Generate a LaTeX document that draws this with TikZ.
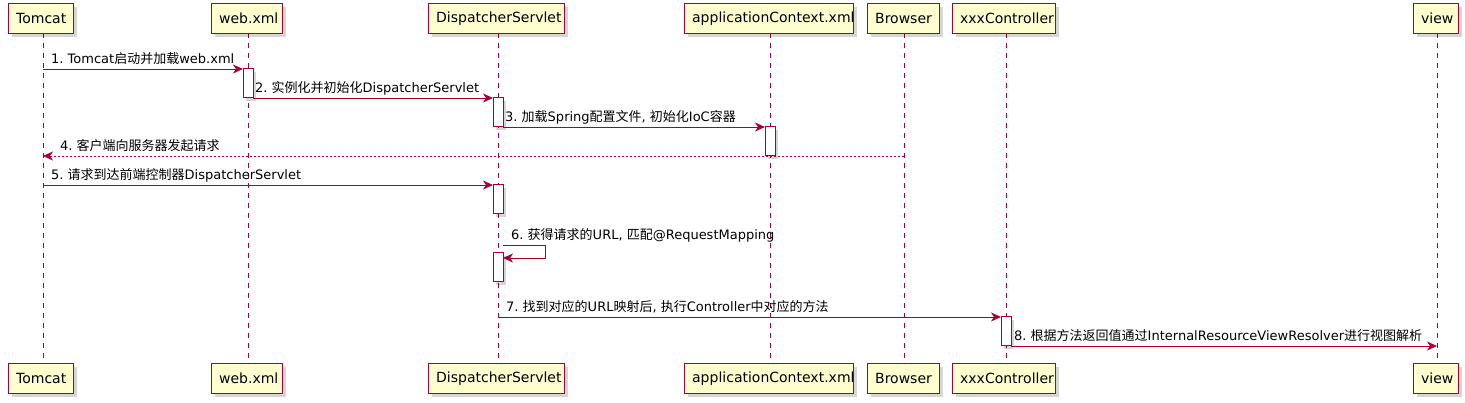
\documentclass[tikz,border=0pt]{standalone}
\usepackage{fontspec}
\setmainfont{DejaVu Sans}
\newfontfamily\cjk{Noto Sans CJK SC}
\usetikzlibrary{shadows,arrows.meta}
\definecolor{pborder}{HTML}{A80036}
\definecolor{pfill}{HTML}{FEFECE}
\frenchspacing
\begin{document}
\frenchspacing
\begin{tikzpicture}[x=1pt,y=-1pt,
  shad/.style={drop shadow={shadow xshift=3pt,shadow yshift=-3pt,fill=black,opacity=0.16}},
  part/.style={draw=pborder, fill=pfill, line width=1.3pt, minimum height=30pt,
    inner xsep=7.5pt, inner ysep=0pt, font=\fontsize{14}{16}\selectfont,
    align=left, anchor=north west, shad},
  life/.style={draw=pborder, line width=0.8pt, dash pattern=on 5pt off 5pt},
  act/.style={draw=pborder, fill=white, line width=1pt, minimum width=10pt,
    minimum height=29pt, inner sep=0pt, outer sep=0pt, anchor=north, shad},
  msg/.style={draw=pborder, line width=0.9pt, -{Stealth[length=10pt,width=9pt,inset=3pt]}},
  ret/.style={msg, dash pattern=on 2pt off 2pt},
  lbl/.style={anchor=base west, inner sep=0pt, font=\fontsize{13}{15}\selectfont}
]
\useasboundingbox (0,0) rectangle (1465,403);

% lifelines
\foreach \x in {43,248,498,770,904,1006,1437}
  \draw[life] (\x,33) -- (\x,363);

% participants (top and bottom)
\foreach \nm/\l/\w/\t in {tomcat/8/65/Tomcat, web/211/71/web.xml, ds/428/136/DispatcherServlet,
    ctx/684/169/applicationContext.xml, br/867/72/Browser, xc/952/103/xxxController, view/1413/45/view}{
  \node[part, text width=\w pt-15pt] (\nm T) at (\l,3) {\t};
  \node[part, text width=\w pt-15pt] (\nm B) at (\l,363) {\t};
}

% activations
\node[act] (aw)  at (248,69) {};
\node[act] (ad1) at (498,98) {};
\node[act] (ac)  at (770,127) {};
\node[act] (ad2) at (498,185) {};
\node[act] (ad3) at (498,253) {};
\node[act] (ax)  at (1006,317) {};

% coordinates on lifelines
\coordinate (m1s) at (43,69);
\coordinate (m4s) at (904,156);
\coordinate (m4e) at (43,156);
\coordinate (m5s) at (43,185);
\coordinate (m6s) at (503,245);
\coordinate (m6a) at (545,245);
\coordinate (m6b) at (545,258);
\coordinate (m7s) at (498,317);
\coordinate (m8e) at (1437,346);

% messages
\draw[msg] (m1s) -- (aw.north west);
\node[lbl] (l1) at (51,64) {1. Tomcat{\cjk 启动并加载}web.xml};

\draw[msg] (aw.south east) -- (ad1.north west);
\node[lbl] (l2) at (255,93) {2. {\cjk 实例化并初始化}DispatcherServlet};

\draw[msg] (ad1.south east) -- (ac.north west);
\node[lbl] (l3) at (505,122) {3. {\cjk 加载}Spring{\cjk 配置文件}, {\cjk 初始化}IoC{\cjk 容器}};

\draw[ret] (m4s) -- (m4e);
\node[lbl] (l4) at (60,151) {4. {\cjk 客户端向服务器发起请求}};

\draw[msg] (m5s) -- (ad2.north west);
\node[lbl] (l5) at (51,180) {5. {\cjk 请求到达前端控制器}DispatcherServlet};

\draw[msg] (m6s) -- (m6a) -- (m6b) -- ([yshift=-5pt]ad3.north east);
\node[lbl] (l6) at (511,240) {6. {\cjk 获得请求的}URL, {\cjk 匹配}@RequestMapping};

\draw[msg] (m7s) -- (ax.north west);
\node[lbl] (l7) at (506,312) {7. {\cjk 找到对应的}URL{\cjk 映射后}, {\cjk 执行}Controller{\cjk 中对应的方法}};

\draw[msg] (ax.south east) -- (m8e);
\node[lbl] (l8) at (1014,341) {8. {\cjk 根据方法返回值通过}InternalResourceViewResolver{\cjk 进行视图解析}};
\end{tikzpicture}
\end{document}
